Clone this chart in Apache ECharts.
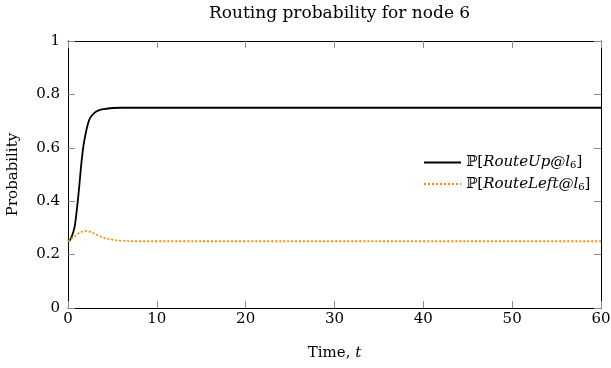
<!DOCTYPE html>
<html>
<head>
<meta charset="utf-8">
<script src="https://cdn.jsdelivr.net/npm/echarts@6/dist/echarts.min.js"></script>
<style>
  html, body { margin: 0; padding: 0; background: #fff; }
  #chart { width: 611px; height: 368px; }
</style>
</head>
<body>
<div id="chart"></div>
<script>
// time points (t) and the two routing probabilities
const timeT = [0, 0.25, 0.5, 0.75, 1, 1.25, 1.5, 1.75, 2, 2.25, 2.5, 3, 3.5, 4, 5, 6, 8, 10, 20, 30, 40, 50, 60];
const routeUp = [0.25, 0.256, 0.275, 0.305, 0.37, 0.45, 0.54, 0.61, 0.655, 0.69, 0.712, 0.732, 0.741, 0.745, 0.749, 0.75, 0.75, 0.75, 0.75, 0.75, 0.75, 0.75, 0.75];
const routeLeft = [0.25, 0.256, 0.262, 0.268, 0.275, 0.281, 0.285, 0.288, 0.289, 0.288, 0.285, 0.278, 0.27, 0.263, 0.256, 0.252, 0.25, 0.25, 0.25, 0.25, 0.25, 0.25, 0.25];

const FONT = 'DejaVu Serif';
const FS = 15;
const myChart = echarts.init(document.getElementById('chart'), null, { renderer: 'canvas' });

const pairs = (ys) => timeT.map((t, i) => [t, ys[i]]);

// ticks inside the frame, grey like pgfplots
const tick = () => ({ show: true, inside: true, length: 7, lineStyle: { color: '#8a8a8a', width: 1 } });
const frameLine = () => ({ show: true, onZero: false, lineStyle: { color: '#000', width: 1 } });

const option = {
  backgroundColor: '#fff',
  animation: false,
  title: {
    text: 'Routing probability for node 6',
    left: 204,
    top: 0,
    textStyle: { fontFamily: FONT, fontSize: 17, fontWeight: 'normal', color: '#000' },
  },
  grid: { left: 68, right: 10, top: 41, bottom: 60, outerBoundsMode: 'none', containLabel: false },
  legend: {
    left: 418,
    top: 150,
    orient: 'vertical',
    itemWidth: 37,
    itemHeight: 18,
    itemGap: 6,
    itemStyle: { opacity: 0 },
    textStyle: {
      fontFamily: FONT,
      fontSize: FS,
      color: '#000',
      rich: {
        n: { fontFamily: FONT, fontSize: FS, color: '#000' },
        i: { fontFamily: FONT, fontSize: FS, fontStyle: 'italic', color: '#000' },
        s: { fontFamily: FONT, fontSize: 10, color: '#000', padding: [6, 0, 0, 0] },
      },
    },
    formatter(name) {
      if (name === 'up') return '{n|ℙ[}{i|RouteUp@l}{s|6}{n|]}';
      return '{n|ℙ[}{i|RouteLeft@l}{s|6}{n|]}';
    },
    data: ['up', 'left'],
  },
  xAxis: [
    {
      type: 'value',
      min: 0,
      max: 60,
      interval: 10,
      name: 'Time, {i|t}',
      nameLocation: 'middle',
      nameGap: 38,
      nameTextStyle: {
        fontFamily: FONT,
        fontSize: FS,
        color: '#000',
        rich: { i: { fontFamily: FONT, fontSize: FS, fontStyle: 'italic', color: '#000' } },
      },
      axisLine: frameLine(),
      axisTick: tick(),
      axisLabel: { fontFamily: FONT, fontSize: FS, color: '#000', margin: 4 },
      splitLine: { show: false },
    },
    {
      type: 'value',
      position: 'top',
      min: 0,
      max: 60,
      interval: 10,
      axisLine: frameLine(),
      axisTick: tick(),
      axisLabel: { show: false },
      splitLine: { show: false },
    },
  ],
  yAxis: [
    {
      type: 'value',
      min: 0,
      max: 1,
      interval: 0.2,
      name: 'Probability',
      nameLocation: 'middle',
      nameGap: 47,
      nameTextStyle: { fontFamily: FONT, fontSize: FS, color: '#000' },
      axisLine: frameLine(),
      axisTick: tick(),
      axisLabel: {
        fontFamily: FONT,
        fontSize: FS,
        color: '#000',
        margin: 8,
        formatter: (v) => String(Math.round(v * 10) / 10),
      },
      splitLine: { show: false },
    },
    {
      type: 'value',
      position: 'right',
      min: 0,
      max: 1,
      interval: 0.2,
      axisLine: frameLine(),
      axisTick: tick(),
      axisLabel: { show: false },
      splitLine: { show: false },
    },
  ],
  series: [
    {
      name: 'up',
      type: 'line',
      smooth: 0.4,
      symbol: 'none',
      color: '#000',
      lineStyle: { color: '#000', width: 1.8 },
      data: pairs(routeUp),
    },
    {
      name: 'left',
      type: 'line',
      smooth: 0.4,
      symbol: 'none',
      color: '#ff8c00',
      lineStyle: { color: '#ff8c00', width: 1.8, type: [2, 2] },
      data: pairs(routeLeft),
    },
  ],
};

myChart.setOption(option);
</script>
</body>
</html>
